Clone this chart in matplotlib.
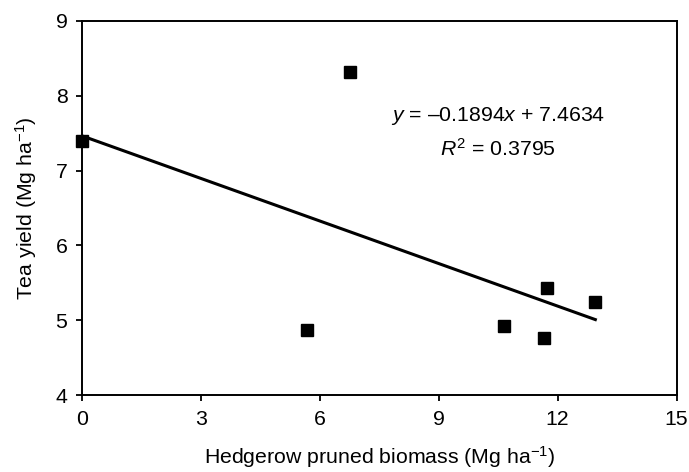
import numpy as np
import matplotlib
matplotlib.use("Agg")
import matplotlib.pyplot as plt

plt.rcParams['font.family'] = ['Liberation Sans', 'DejaVu Sans']
plt.rcParams['mathtext.fontset'] = 'custom'
plt.rcParams['mathtext.rm'] = 'Liberation Sans'
plt.rcParams['mathtext.it'] = 'Liberation Sans:italic'

# Data
biomass = [0.0, 6.75, 5.68, 10.65, 11.66, 11.74, 12.95]
tea_yield = [7.39, 8.31, 4.87, 4.93, 4.76, 5.43, 5.25]
slope = -0.1894
intercept = 7.4634
r2 = 0.3795
x_ticks = [0, 3, 6, 9, 12, 15]
y_ticks = [4, 5, 6, 7, 8, 9]

fig = plt.figure(figsize=(6.89, 4.72), dpi=100)
ax = fig.add_axes([0.119, 0.1625, 0.863, 0.7935])

ax.plot(biomass, tea_yield, 's', color='black', markersize=8, zorder=3,
        clip_on=False)

# Trend line over the data range
xl = np.array([min(biomass), max(biomass)])
ax.plot(xl, slope * xl + intercept, color='black', linewidth=2.2)

ax.text(10.5, 7.73, "$y$ = \u20130.1894$x$ + 7.4634", ha='center', va='center',
        fontsize=15.3)
ax.text(10.5, 7.29, "$R^2$ = 0.3795", ha='center', va='center', fontsize=15.3)

ax.set_xlim(0, 15)
ax.set_ylim(4, 9)
ax.set_xticks(x_ticks)
ax.set_yticks(y_ticks)
ax.tick_params(direction='out', length=4.5, width=1.3, labelsize=15.3,
               pad=6, top=False, right=False)
for s in ax.spines.values():
    s.set_linewidth(1.4)

ax.set_xlabel("Hedgerow pruned biomass (Mg ha$^{\u22121}$)", fontsize=15.3,
              labelpad=11)
ax.set_ylabel("Tea yield (Mg ha$^{\u22121}$)", fontsize=15.3, labelpad=12)

fig.savefig("out.png", dpi=100)
